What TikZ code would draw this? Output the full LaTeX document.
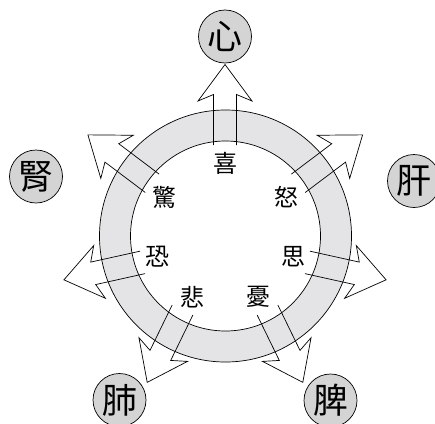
\documentclass[tikz,border=0pt]{standalone}
\usepackage{fontspec}
\newfontfamily\cjk{Noto Sans CJK TC}
\definecolor{ringgray}{RGB}{228,228,230}
\definecolor{organgray}{RGB}{212,212,213}
\begin{document}
\begin{tikzpicture}[x=1pt,y=-1pt,
  organ/.style={circle, draw, line width=0.7pt, fill=organgray, minimum size=53pt, inner sep=0pt,
    font=\cjk\fontsize{35}{35}\selectfont},
  emo/.style={inner sep=0pt, font=\cjk\fontsize{24}{24}\selectfont},
  blockarrow/.style={draw, line width=0.7pt, line join=miter},
  ringline/.style={draw, line width=0.7pt}]
\useasboundingbox (0,0) rectangle (435,423);
\coordinate (c) at (225.5,236);
% ring
\fill[ringgray, even odd rule] (c) circle[radius=126pt] (c) circle[radius=95pt];
\draw[ringline] (c) circle[radius=126pt];
\draw[ringline] (c) circle[radius=95pt];
% block arrows
\foreach \x/\y/\a in {225/145/90, 298.3/183.3/37, 307.5/262.4/-12.5, 267.5/310/-64,
                      182.5/310/244, 142.5/262.4/192.5, 152.2/183.3/143}{
  \draw[blockarrow, shift={(\x,\y)}, rotate=\a]
    (0,11.5) -- (50.5,11.5) -- (44,27) -- (80.5,0) -- (44,-27) -- (50.5,-11.5) -- (0,-11.5);
}
% emotions
\node[emo] (xi)   at (225,163) {喜};
\node[emo] (nu)   at (286,197) {怒};
\node[emo] (si)   at (293,257) {思};
\node[emo] (you)  at (258,297) {憂};
\node[emo] (bei)  at (192,297) {悲};
\node[emo] (kong) at (157,257) {恐};
\node[emo] (jing) at (164,197) {驚};
% organs
\node[organ] (xin)  at (225,36.5)  {心};
\node[organ] (gan)  at (414,181)   {肝};
\node[organ] (shen) at (36,176.5)  {腎};
\node[organ] (fei)  at (119.5,400) {肺};
\node[organ] (pi)   at (330.5,400.5) {脾};
\end{tikzpicture}
\end{document}
